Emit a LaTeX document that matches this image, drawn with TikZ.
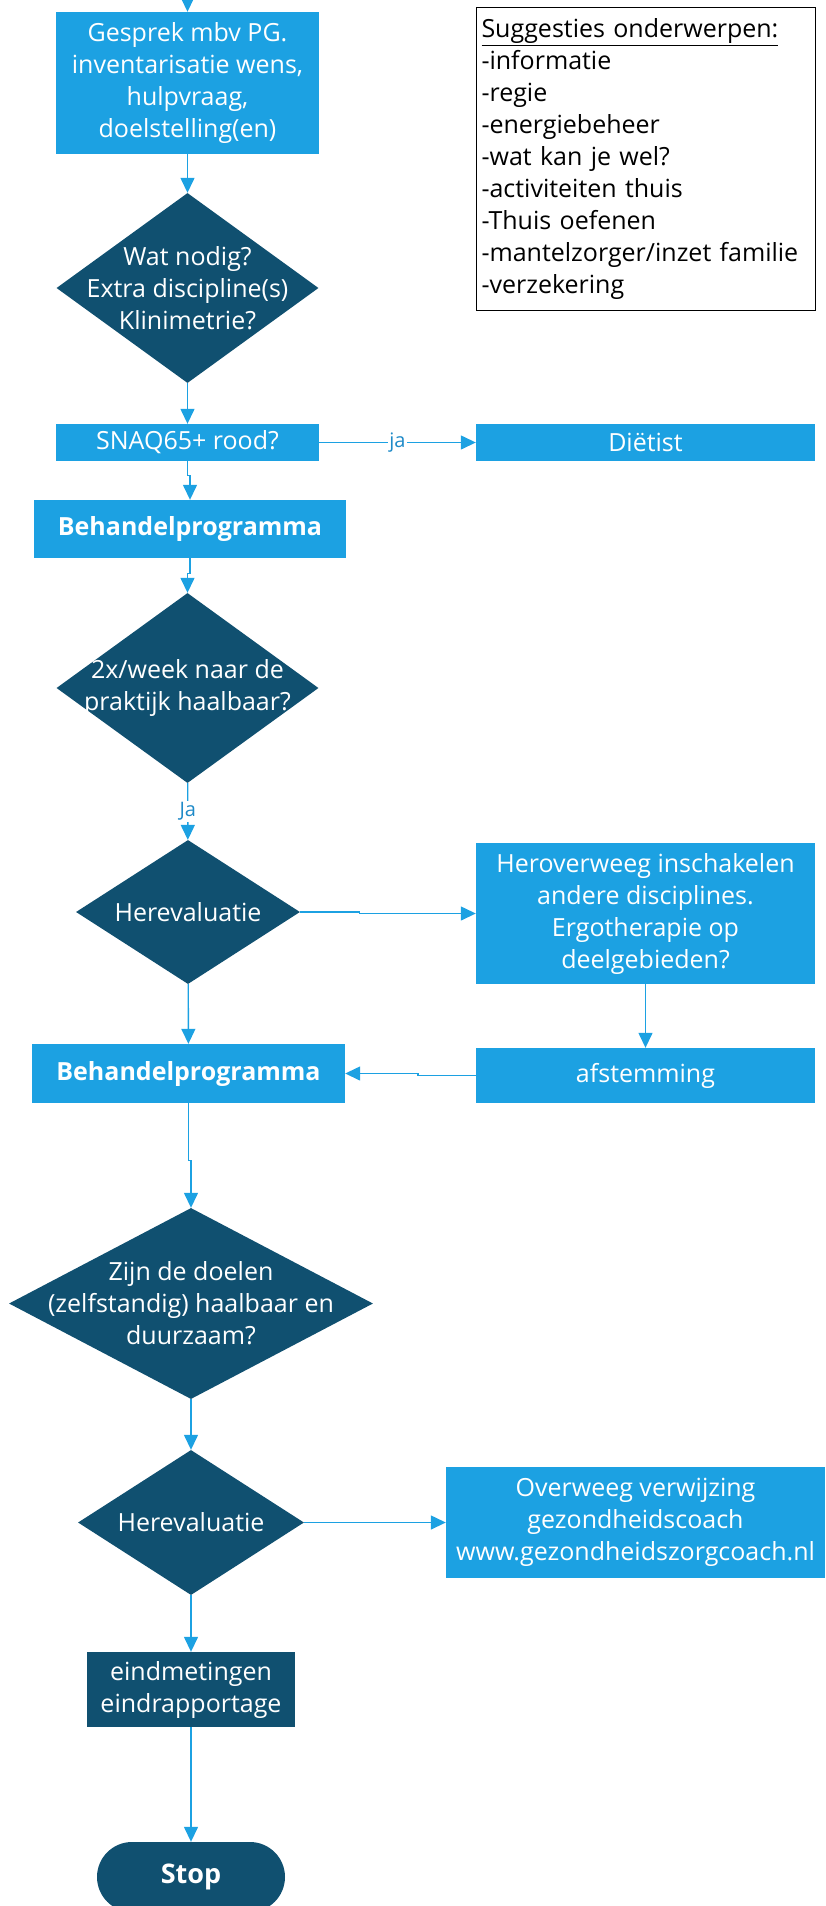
\documentclass[tikz,border=0pt]{standalone}
\usepackage{fontspec}
\setmainfont{Open Sans}
\usetikzlibrary{shapes.geometric,arrows.meta}
\definecolor{lichtblauw}{RGB}{28,161,226}
\definecolor{donkerblauw}{RGB}{16,80,112}
\definecolor{labelblauw}{RGB}{30,138,200}

\begin{document}
\begin{tikzpicture}[x=1pt,y=-1pt,
        stap/.style={rectangle, fill=lichtblauw, text=white, align=center,
            inner sep=0pt, font=\fontsize{25}{32}\selectfont},
        keuze/.style={diamond, fill=donkerblauw, inner sep=0pt},
        keuzetekst/.style={text=white, align=center, inner sep=0pt,
            font=\fontsize{25}{32}\selectfont},
        einde/.style={rectangle, rounded corners=35pt, fill=donkerblauw,
            text=white, font=\fontsize{27}{32}\selectfont\bfseries},
        pijl/.style={draw=lichtblauw, line width=1.4pt,
            -{Triangle[length=15pt,width=14pt]}},
        ja/.style={fill=white, text=labelblauw, inner sep=1pt,
            font=\fontsize{20}{24}\selectfont}]
    \useasboundingbox (0,0) rectangle (825,1906);

    % hoofdlijn
    \coordinate (begin) at (187.5,0);
    \node[stap, minimum width=263pt, minimum height=142pt] (gesprek) at (187.5,83)
        {Gesprek mbv PG.\\inventarisatie wens,\\hulpvraag,\\doelstelling(en)};
    \node[keuze, minimum width=262pt, minimum height=190pt] (nodig) at (187.5,288) {};
    \node[keuzetekst] (nodig-t) at (nodig) {Wat nodig?\\Extra discipline(s)\\Klinimetrie?};
    \node[stap, minimum width=263pt, minimum height=37pt] (snaq) at (187.5,442.5) {SNAQ65+ rood?};
    \node[stap, minimum width=312pt, minimum height=58pt] (beh1) at (190,529)
        {\bfseries Behandelprogramma};
    \node[keuze, minimum width=262pt, minimum height=190pt] (praktijk) at (187.5,688) {};
    \node[keuzetekst] (praktijk-t) at (praktijk) {2x/week naar de\\praktijk haalbaar?};
    \node[keuze, minimum width=224pt, minimum height=144pt] (herev1) at (188,912) {};
    \node[keuzetekst] (herev1-t) at (herev1) {Herevaluatie};
    \node[stap, minimum width=313pt, minimum height=59pt] (beh2) at (188.5,1073.5)
        {\bfseries Behandelprogramma};
    \node[keuze, minimum width=364pt, minimum height=191pt] (doelen) at (191,1303.5) {};
    \node[keuzetekst] (doelen-t) at (doelen) {Zijn de doelen\\(zelfstandig) haalbaar en\\duurzaam?};
    \node[keuze, minimum width=226pt, minimum height=145pt] (herev2) at (191,1522.5) {};
    \node[keuzetekst] (herev2-t) at (herev2) {Herevaluatie};
    \node[stap, fill=donkerblauw, minimum width=208pt, minimum height=75pt] (eind) at (191,1689.5)
        {eindmetingen\\eindrapportage};
    \node[einde, minimum width=188pt, minimum height=70pt] (stop) at (191,1877) {Stop};

    % rechterkolom
    \node[draw=black, line width=1pt, anchor=north west, minimum width=339pt,
        minimum height=303pt, text width=329pt, inner sep=5pt, align=left,
        font=\fontsize{25}{32}\selectfont] (suggesties) at (476,7)
        {\underline{Suggesties onderwerpen:}\\-informatie\\-regie\\-energiebeheer\\
         -wat kan je wel?\\-activiteiten thuis\\-Thuis oefenen\\
         -mantelzorger/inzet familie\\-verzekering};
    \node[stap, minimum width=339pt, minimum height=37pt] (dietist) at (645.5,442.5) {Diëtist};
    \node[stap, minimum width=339pt, minimum height=141pt] (herover) at (645.5,913.5)
        {Heroverweeg inschakelen\\andere disciplines.\\Ergotherapie op\\deelgebieden?};
    \node[stap, minimum width=339pt, minimum height=55pt] (afst) at (645.5,1075.5) {afstemming};
    \node[stap, minimum width=379pt, minimum height=111pt] (overweeg) at (635.5,1522.5)
        {Overweeg verwijzing\\gezondheidscoach\\www.gezondheidszorgcoach.nl};

    % verbindingen
    \draw[pijl] (begin) -- (gesprek);
    \draw[pijl] (gesprek) -- (nodig);
    \draw[pijl] (nodig) -- (snaq);
    \draw[pijl] (snaq) -- node[ja] {ja} (dietist);
    \draw[pijl] (snaq.south) -- ++(0,14) -| (beh1.north);
    \draw[pijl] (beh1.south) -- ++(0,15) -| (praktijk.north);
    \draw[pijl] (praktijk) -- node[ja] {Ja} (herev1);
    \draw[pijl] (herev1.east) -- ++(59,0) |- (herover.west);
    \draw[pijl] (herover) -- (afst);
    \draw[pijl] (afst.west) -- ++(-58,0) |- (beh2.east);
    \draw[pijl] (herev1) -- (beh2);
    \draw[pijl] (beh2.south) -- ++(0,57) -| (doelen.north);
    \draw[pijl] (doelen) -- (herev2);
    \draw[pijl] (herev2) -- (overweeg);
    \draw[pijl] (herev2) -- (eind);
    \draw[pijl] (eind) -- (stop);
\end{tikzpicture}
\end{document}
